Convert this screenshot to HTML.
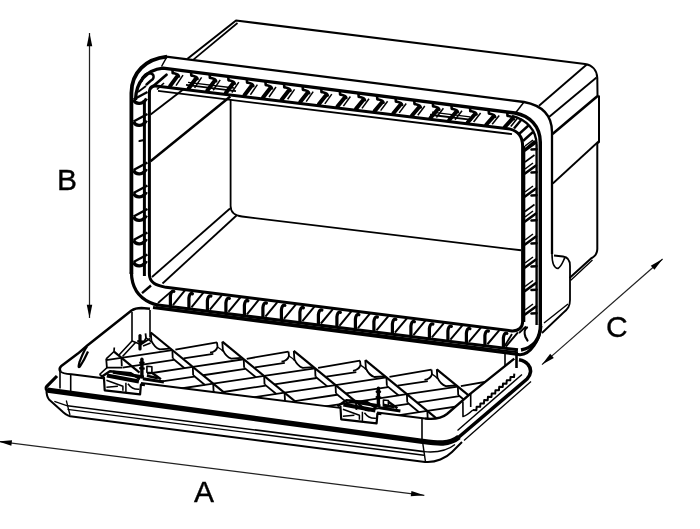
<!DOCTYPE html>
<html><head><meta charset="utf-8"><title>Box dimensions</title>
<style>
html,body{margin:0;padding:0;background:#fff;}
body{width:700px;height:529px;overflow:hidden;position:relative;font-family:"Liberation Sans",sans-serif;}
svg{position:absolute;left:0;top:0;filter:blur(0.3px);}
.lbl{position:absolute;will-change:transform;font-family:"Liberation Sans",sans-serif;font-size:30px;line-height:1;color:#000;-webkit-text-stroke:0.35px #000;}
</style></head><body>
<svg width="700" height="529" viewBox="0 0 700 529">
<path d="M187.5,58.8 L236,20.5 L585,64 C592,65 597,70 597.3,78 L597.5,95" fill="none" stroke="#000" stroke-width="2.0" stroke-linejoin="round" stroke-linecap="butt"/>
<line x1="237.50" y1="23.00" x2="192.50" y2="60.30" stroke="#000" stroke-width="1.7" stroke-linecap="butt"/>
<path d="M599,95.5 L599,142 L597.3,143.5 L597.3,249 C597.3,254 595,256.5 591,258.5 L569.5,278" fill="none" stroke="#000" stroke-width="2.0" stroke-linejoin="round" stroke-linecap="butt"/>
<line x1="592.50" y1="260.00" x2="570.50" y2="280.50" stroke="#000" stroke-width="1.3" stroke-linecap="butt"/>
<line x1="586.50" y1="64.80" x2="539.00" y2="105.70" stroke="#000" stroke-width="1.9" stroke-linecap="butt"/>
<line x1="596.50" y1="77.50" x2="549.00" y2="117.00" stroke="#000" stroke-width="1.9" stroke-linecap="butt"/>
<line x1="598.50" y1="95.20" x2="552.50" y2="134.00" stroke="#000" stroke-width="2.6" stroke-linecap="butt"/>
<line x1="598.50" y1="141.50" x2="552.80" y2="183.50" stroke="#000" stroke-width="1.8" stroke-linecap="butt"/>
<path d="M131.4,274 L131.4,93 C131.4,72 146,59 167,56.70" fill="none" stroke="#000" stroke-width="3.8" stroke-linejoin="round" stroke-linecap="butt"/>
<path d="M166,56.57 L524,102.00 C540,105 552,114 552,132 L552,254" fill="none" stroke="#000" stroke-width="2.3" stroke-linejoin="round" stroke-linecap="butt"/>
<line x1="167.00" y1="56.70" x2="161.50" y2="66.50" stroke="#000" stroke-width="1.5" stroke-linecap="butt"/>
<path d="M135.5,100 C136,82 146,70 163,68.12 L515,113.04 C530,116 540,126 540.3,142 L540.3,325" fill="none" stroke="#000" stroke-width="3.4" stroke-linejoin="round" stroke-linecap="butt"/>
<path d="M512,115.86 C526,119.5 536.6,129.5 536.6,145 L536.6,325" fill="none" stroke="#000" stroke-width="2.4" stroke-linejoin="round" stroke-linecap="butt"/>
<line x1="524.00" y1="102.00" x2="515.50" y2="113.04" stroke="#000" stroke-width="1.5" stroke-linecap="butt"/>
<path d="M149.4,93.11 C149.4,87.11 151,85.42 158,86.16 L510,129.10 C518,131.08 522.6,137 522.6,146 L522.6,322 C522.6,327 519,331.18 512,330.93 L166,287.34 C156,285.08 149.4,283 149.4,274 Z" fill="none" stroke="#000" stroke-width="3.0" stroke-linejoin="round" stroke-linecap="butt"/>
<line x1="158.00" y1="90.96" x2="512.00" y2="134.14" stroke="#000" stroke-width="1.8" stroke-linecap="butt"/>
<line x1="144.40" y1="100.00" x2="144.40" y2="276.00" stroke="#000" stroke-width="3.0" stroke-linecap="butt"/>
<line x1="524.60" y1="146.00" x2="524.60" y2="322.00" stroke="#000" stroke-width="1.4" stroke-linecap="butt"/>
<path d="M131.4,272 C131.6,287 138,297 150,302.5 C153,303.8 155,304.49 158,305.04" fill="none" stroke="#000" stroke-width="3.2" stroke-linejoin="round" stroke-linecap="butt"/>
<path d="M153,307.51 L520,354.71 C530,354.95 540,340 541,326" fill="none" stroke="#000" stroke-width="3.0" stroke-linejoin="round" stroke-linecap="butt"/>
<line x1="156.00" y1="304.79" x2="518.00" y2="349.86" stroke="#000" stroke-width="3.0" stroke-linecap="butt"/>
<line x1="156.00" y1="307.19" x2="518.00" y2="352.26" stroke="#000" stroke-width="2.0" stroke-linecap="butt"/>
<line x1="142.00" y1="293.20" x2="151.00" y2="285.50" stroke="#000" stroke-width="2.4" stroke-linecap="butt"/>
<line x1="158.00" y1="303.00" x2="171.00" y2="291.60" stroke="#000" stroke-width="1.8" stroke-linecap="butt"/>
<path d="M552,254 C552,262 553,268 558,268.5 C562,266 563,261 565,257.5" fill="none" stroke="#000" stroke-width="1.6" stroke-linejoin="round" stroke-linecap="butt"/>
<path d="M554,255.5 L563,256.5 C568,257 570,261 570,266 L570,300 C570,306 568,309 563,313 L542,333" fill="none" stroke="#000" stroke-width="1.8" stroke-linejoin="round" stroke-linecap="butt"/>
<line x1="568.00" y1="304.00" x2="544.00" y2="323.00" stroke="#000" stroke-width="1.4" stroke-linecap="butt"/>
<path d="M540.5,324 C540.5,338 534,347.5 521,350" fill="none" stroke="#000" stroke-width="3.4" stroke-linejoin="round" stroke-linecap="butt"/>
<path d="M527,327.5 C524.5,329 524,333 525.5,337 L527.5,340.5" fill="none" stroke="#000" stroke-width="2.2" stroke-linejoin="round" stroke-linecap="round"/>
<line x1="519.00" y1="333.00" x2="526.00" y2="326.50" stroke="#000" stroke-width="1.8" stroke-linecap="butt"/>
<line x1="512.00" y1="333.93" x2="504.00" y2="347.11" stroke="#000" stroke-width="1.8" stroke-linecap="butt"/>
<line x1="170.00" y1="86.18" x2="177.00" y2="76.58" stroke="#000" stroke-width="4.0" stroke-linecap="round"/>
<path d="M172.50,70.08 L172.70,73.08 C174.50,73.58 178.50,73.58 179.00,76.58" fill="none" stroke="#000" stroke-width="2.6" stroke-linejoin="round" stroke-linecap="round"/>
<line x1="176.00" y1="85.68" x2="183.00" y2="75.08" stroke="#000" stroke-width="1.5" stroke-linecap="butt"/>
<line x1="188.60" y1="88.45" x2="195.60" y2="78.95" stroke="#000" stroke-width="4.0" stroke-linecap="round"/>
<path d="M191.10,72.45 L191.30,75.45 C193.10,75.95 197.10,75.95 197.60,78.95" fill="none" stroke="#000" stroke-width="2.6" stroke-linejoin="round" stroke-linecap="round"/>
<line x1="194.60" y1="87.95" x2="201.60" y2="77.45" stroke="#000" stroke-width="1.5" stroke-linecap="butt"/>
<line x1="207.20" y1="90.72" x2="214.20" y2="81.33" stroke="#000" stroke-width="4.0" stroke-linecap="round"/>
<path d="M209.70,74.83 L209.90,77.83 C211.70,78.33 215.70,78.33 216.20,81.33" fill="none" stroke="#000" stroke-width="2.6" stroke-linejoin="round" stroke-linecap="round"/>
<line x1="213.20" y1="90.22" x2="220.20" y2="79.83" stroke="#000" stroke-width="1.5" stroke-linecap="butt"/>
<line x1="225.80" y1="92.99" x2="232.80" y2="83.70" stroke="#000" stroke-width="4.0" stroke-linecap="round"/>
<path d="M228.30,77.20 L228.50,80.20 C230.30,80.70 234.30,80.70 234.80,83.70" fill="none" stroke="#000" stroke-width="2.6" stroke-linejoin="round" stroke-linecap="round"/>
<line x1="231.80" y1="92.49" x2="238.80" y2="82.20" stroke="#000" stroke-width="1.5" stroke-linecap="butt"/>
<line x1="244.40" y1="95.26" x2="251.40" y2="86.07" stroke="#000" stroke-width="4.0" stroke-linecap="round"/>
<path d="M246.90,79.57 L247.10,82.57 C248.90,83.07 252.90,83.07 253.40,86.07" fill="none" stroke="#000" stroke-width="2.6" stroke-linejoin="round" stroke-linecap="round"/>
<line x1="250.40" y1="94.76" x2="257.40" y2="84.57" stroke="#000" stroke-width="1.5" stroke-linecap="butt"/>
<line x1="263.00" y1="97.53" x2="270.00" y2="88.45" stroke="#000" stroke-width="4.0" stroke-linecap="round"/>
<path d="M265.50,81.95 L265.70,84.95 C267.50,85.45 271.50,85.45 272.00,88.45" fill="none" stroke="#000" stroke-width="2.6" stroke-linejoin="round" stroke-linecap="round"/>
<line x1="269.00" y1="97.03" x2="276.00" y2="86.95" stroke="#000" stroke-width="1.5" stroke-linecap="butt"/>
<line x1="281.60" y1="99.80" x2="288.60" y2="90.82" stroke="#000" stroke-width="4.0" stroke-linecap="round"/>
<path d="M284.10,84.32 L284.30,87.32 C286.10,87.82 290.10,87.82 290.60,90.82" fill="none" stroke="#000" stroke-width="2.6" stroke-linejoin="round" stroke-linecap="round"/>
<line x1="287.60" y1="99.30" x2="294.60" y2="89.32" stroke="#000" stroke-width="1.5" stroke-linecap="butt"/>
<line x1="300.20" y1="102.07" x2="307.20" y2="93.19" stroke="#000" stroke-width="4.0" stroke-linecap="round"/>
<path d="M302.70,86.69 L302.90,89.69 C304.70,90.19 308.70,90.19 309.20,93.19" fill="none" stroke="#000" stroke-width="2.6" stroke-linejoin="round" stroke-linecap="round"/>
<line x1="306.20" y1="101.57" x2="313.20" y2="91.69" stroke="#000" stroke-width="1.5" stroke-linecap="butt"/>
<line x1="318.80" y1="104.33" x2="325.80" y2="95.57" stroke="#000" stroke-width="4.0" stroke-linecap="round"/>
<path d="M321.30,89.07 L321.50,92.07 C323.30,92.57 327.30,92.57 327.80,95.57" fill="none" stroke="#000" stroke-width="2.6" stroke-linejoin="round" stroke-linecap="round"/>
<line x1="324.80" y1="103.83" x2="331.80" y2="94.07" stroke="#000" stroke-width="1.5" stroke-linecap="butt"/>
<line x1="337.40" y1="106.60" x2="344.40" y2="97.94" stroke="#000" stroke-width="4.0" stroke-linecap="round"/>
<path d="M339.90,91.44 L340.10,94.44 C341.90,94.94 345.90,94.94 346.40,97.94" fill="none" stroke="#000" stroke-width="2.6" stroke-linejoin="round" stroke-linecap="round"/>
<line x1="343.40" y1="106.10" x2="350.40" y2="96.44" stroke="#000" stroke-width="1.5" stroke-linecap="butt"/>
<line x1="356.00" y1="108.87" x2="363.00" y2="100.31" stroke="#000" stroke-width="4.0" stroke-linecap="round"/>
<path d="M358.50,93.81 L358.70,96.81 C360.50,97.31 364.50,97.31 365.00,100.31" fill="none" stroke="#000" stroke-width="2.6" stroke-linejoin="round" stroke-linecap="round"/>
<line x1="362.00" y1="108.37" x2="369.00" y2="98.81" stroke="#000" stroke-width="1.5" stroke-linecap="butt"/>
<line x1="374.60" y1="111.14" x2="381.60" y2="102.69" stroke="#000" stroke-width="4.0" stroke-linecap="round"/>
<path d="M377.10,96.19 L377.30,99.19 C379.10,99.69 383.10,99.69 383.60,102.69" fill="none" stroke="#000" stroke-width="2.6" stroke-linejoin="round" stroke-linecap="round"/>
<line x1="380.60" y1="110.64" x2="387.60" y2="101.19" stroke="#000" stroke-width="1.5" stroke-linecap="butt"/>
<line x1="393.20" y1="113.41" x2="400.20" y2="105.06" stroke="#000" stroke-width="4.0" stroke-linecap="round"/>
<path d="M395.70,98.56 L395.90,101.56 C397.70,102.06 401.70,102.06 402.20,105.06" fill="none" stroke="#000" stroke-width="2.6" stroke-linejoin="round" stroke-linecap="round"/>
<line x1="399.20" y1="112.91" x2="406.20" y2="103.56" stroke="#000" stroke-width="1.5" stroke-linecap="butt"/>
<line x1="411.80" y1="115.68" x2="418.80" y2="107.43" stroke="#000" stroke-width="4.0" stroke-linecap="round"/>
<path d="M414.30,100.93 L414.50,103.93 C416.30,104.43 420.30,104.43 420.80,107.43" fill="none" stroke="#000" stroke-width="2.6" stroke-linejoin="round" stroke-linecap="round"/>
<line x1="417.80" y1="115.18" x2="424.80" y2="105.93" stroke="#000" stroke-width="1.5" stroke-linecap="butt"/>
<line x1="430.40" y1="117.95" x2="437.40" y2="109.81" stroke="#000" stroke-width="4.0" stroke-linecap="round"/>
<path d="M432.90,103.31 L433.10,106.31 C434.90,106.81 438.90,106.81 439.40,109.81" fill="none" stroke="#000" stroke-width="2.6" stroke-linejoin="round" stroke-linecap="round"/>
<line x1="436.40" y1="117.45" x2="443.40" y2="108.31" stroke="#000" stroke-width="1.5" stroke-linecap="butt"/>
<line x1="449.00" y1="120.22" x2="456.00" y2="112.18" stroke="#000" stroke-width="4.0" stroke-linecap="round"/>
<path d="M451.50,105.68 L451.70,108.68 C453.50,109.18 457.50,109.18 458.00,112.18" fill="none" stroke="#000" stroke-width="2.6" stroke-linejoin="round" stroke-linecap="round"/>
<line x1="455.00" y1="119.72" x2="462.00" y2="110.68" stroke="#000" stroke-width="1.5" stroke-linecap="butt"/>
<line x1="467.60" y1="122.49" x2="474.60" y2="114.55" stroke="#000" stroke-width="4.0" stroke-linecap="round"/>
<path d="M470.10,108.05 L470.30,111.05 C472.10,111.55 476.10,111.55 476.60,114.55" fill="none" stroke="#000" stroke-width="2.6" stroke-linejoin="round" stroke-linecap="round"/>
<line x1="473.60" y1="121.99" x2="480.60" y2="113.05" stroke="#000" stroke-width="1.5" stroke-linecap="butt"/>
<line x1="486.20" y1="124.76" x2="493.20" y2="116.93" stroke="#000" stroke-width="4.0" stroke-linecap="round"/>
<path d="M488.70,110.43 L488.90,113.43 C490.70,113.93 494.70,113.93 495.20,116.93" fill="none" stroke="#000" stroke-width="2.6" stroke-linejoin="round" stroke-linecap="round"/>
<line x1="492.20" y1="124.26" x2="499.20" y2="115.43" stroke="#000" stroke-width="1.5" stroke-linecap="butt"/>
<line x1="504.80" y1="127.03" x2="511.80" y2="119.30" stroke="#000" stroke-width="4.0" stroke-linecap="round"/>
<path d="M507.30,112.80 L507.50,115.80 C509.30,116.30 513.30,116.30 513.80,119.30" fill="none" stroke="#000" stroke-width="2.6" stroke-linejoin="round" stroke-linecap="round"/>
<line x1="510.80" y1="126.53" x2="517.80" y2="117.80" stroke="#000" stroke-width="1.5" stroke-linecap="butt"/>
<line x1="186.00" y1="84.97" x2="236.00" y2="91.07" stroke="#000" stroke-width="1.8" stroke-linecap="butt"/>
<line x1="188.00" y1="82.42" x2="234.00" y2="88.03" stroke="#000" stroke-width="1.4" stroke-linecap="butt"/>
<line x1="430.00" y1="114.74" x2="472.00" y2="119.86" stroke="#000" stroke-width="1.8" stroke-linecap="butt"/>
<line x1="432.00" y1="112.18" x2="470.00" y2="116.82" stroke="#000" stroke-width="1.4" stroke-linecap="butt"/>
<path d="M173.90,291.39 C171.90,290.39 170.70,292.89 170.40,295.89 L170.40,305.58" fill="none" stroke="#000" stroke-width="3.2" stroke-linejoin="round" stroke-linecap="round"/>
<line x1="184.90" y1="290.39" x2="172.90" y2="305.08" stroke="#000" stroke-width="2.0" stroke-linecap="butt"/>
<path d="M192.40,293.72 C190.40,292.72 189.20,295.22 188.90,298.22 L188.90,307.88" fill="none" stroke="#000" stroke-width="3.2" stroke-linejoin="round" stroke-linecap="round"/>
<line x1="203.40" y1="292.72" x2="191.40" y2="307.38" stroke="#000" stroke-width="2.0" stroke-linecap="butt"/>
<path d="M210.90,296.05 C208.90,295.05 207.70,297.55 207.40,300.55 L207.40,310.19" fill="none" stroke="#000" stroke-width="3.2" stroke-linejoin="round" stroke-linecap="round"/>
<line x1="221.90" y1="295.05" x2="209.90" y2="309.69" stroke="#000" stroke-width="2.0" stroke-linecap="butt"/>
<path d="M229.40,298.38 C227.40,297.38 226.20,299.88 225.90,302.88 L225.90,312.49" fill="none" stroke="#000" stroke-width="3.2" stroke-linejoin="round" stroke-linecap="round"/>
<line x1="240.40" y1="297.38" x2="228.40" y2="311.99" stroke="#000" stroke-width="2.0" stroke-linecap="butt"/>
<path d="M247.90,300.71 C245.90,299.71 244.70,302.21 244.40,305.21 L244.40,314.79" fill="none" stroke="#000" stroke-width="3.2" stroke-linejoin="round" stroke-linecap="round"/>
<line x1="258.90" y1="299.71" x2="246.90" y2="314.29" stroke="#000" stroke-width="2.0" stroke-linecap="butt"/>
<path d="M266.40,303.05 C264.40,302.05 263.20,304.55 262.90,307.55 L262.90,317.10" fill="none" stroke="#000" stroke-width="3.2" stroke-linejoin="round" stroke-linecap="round"/>
<line x1="277.40" y1="302.05" x2="265.40" y2="316.60" stroke="#000" stroke-width="2.0" stroke-linecap="butt"/>
<path d="M284.90,305.38 C282.90,304.38 281.70,306.88 281.40,309.88 L281.40,319.40" fill="none" stroke="#000" stroke-width="3.2" stroke-linejoin="round" stroke-linecap="round"/>
<line x1="295.90" y1="304.38" x2="283.90" y2="318.90" stroke="#000" stroke-width="2.0" stroke-linecap="butt"/>
<path d="M303.40,307.71 C301.40,306.71 300.20,309.21 299.90,312.21 L299.90,321.70" fill="none" stroke="#000" stroke-width="3.2" stroke-linejoin="round" stroke-linecap="round"/>
<line x1="314.40" y1="306.71" x2="302.40" y2="321.20" stroke="#000" stroke-width="2.0" stroke-linecap="butt"/>
<path d="M321.90,310.04 C319.90,309.04 318.70,311.54 318.40,314.54 L318.40,324.01" fill="none" stroke="#000" stroke-width="3.2" stroke-linejoin="round" stroke-linecap="round"/>
<line x1="332.90" y1="309.04" x2="320.90" y2="323.51" stroke="#000" stroke-width="2.0" stroke-linecap="butt"/>
<path d="M340.40,312.37 C338.40,311.37 337.20,313.87 336.90,316.87 L336.90,326.31" fill="none" stroke="#000" stroke-width="3.2" stroke-linejoin="round" stroke-linecap="round"/>
<line x1="351.40" y1="311.37" x2="339.40" y2="325.81" stroke="#000" stroke-width="2.0" stroke-linecap="butt"/>
<path d="M358.90,314.70 C356.90,313.70 355.70,316.20 355.40,319.20 L355.40,328.61" fill="none" stroke="#000" stroke-width="3.2" stroke-linejoin="round" stroke-linecap="round"/>
<line x1="369.90" y1="313.70" x2="357.90" y2="328.11" stroke="#000" stroke-width="2.0" stroke-linecap="butt"/>
<path d="M377.40,317.03 C375.40,316.03 374.20,318.53 373.90,321.53 L373.90,330.92" fill="none" stroke="#000" stroke-width="3.2" stroke-linejoin="round" stroke-linecap="round"/>
<line x1="388.40" y1="316.03" x2="376.40" y2="330.42" stroke="#000" stroke-width="2.0" stroke-linecap="butt"/>
<path d="M395.90,319.36 C393.90,318.36 392.70,320.86 392.40,323.86 L392.40,333.22" fill="none" stroke="#000" stroke-width="3.2" stroke-linejoin="round" stroke-linecap="round"/>
<line x1="406.90" y1="318.36" x2="394.90" y2="332.72" stroke="#000" stroke-width="2.0" stroke-linecap="butt"/>
<path d="M414.40,321.69 C412.40,320.69 411.20,323.19 410.90,326.19 L410.90,335.52" fill="none" stroke="#000" stroke-width="3.2" stroke-linejoin="round" stroke-linecap="round"/>
<line x1="425.40" y1="320.69" x2="413.40" y2="335.02" stroke="#000" stroke-width="2.0" stroke-linecap="butt"/>
<path d="M432.90,324.02 C430.90,323.02 429.70,325.52 429.40,328.52 L429.40,337.83" fill="none" stroke="#000" stroke-width="3.2" stroke-linejoin="round" stroke-linecap="round"/>
<line x1="443.90" y1="323.02" x2="431.90" y2="337.33" stroke="#000" stroke-width="2.0" stroke-linecap="butt"/>
<path d="M451.40,326.36 C449.40,325.36 448.20,327.86 447.90,330.86 L447.90,340.13" fill="none" stroke="#000" stroke-width="3.2" stroke-linejoin="round" stroke-linecap="round"/>
<line x1="462.40" y1="325.36" x2="450.40" y2="339.63" stroke="#000" stroke-width="2.0" stroke-linecap="butt"/>
<path d="M469.90,328.69 C467.90,327.69 466.70,330.19 466.40,333.19 L466.40,342.43" fill="none" stroke="#000" stroke-width="3.2" stroke-linejoin="round" stroke-linecap="round"/>
<line x1="480.90" y1="327.69" x2="468.90" y2="341.93" stroke="#000" stroke-width="2.0" stroke-linecap="butt"/>
<path d="M488.40,331.02 C486.40,330.02 485.20,332.52 484.90,335.52 L484.90,344.74" fill="none" stroke="#000" stroke-width="3.2" stroke-linejoin="round" stroke-linecap="round"/>
<line x1="499.40" y1="330.02" x2="487.40" y2="344.24" stroke="#000" stroke-width="2.0" stroke-linecap="butt"/>
<path d="M506.90,333.35 C504.90,332.35 503.70,334.85 503.40,337.85 L503.40,347.04" fill="none" stroke="#000" stroke-width="3.2" stroke-linejoin="round" stroke-linecap="round"/>
<line x1="517.90" y1="332.35" x2="505.90" y2="346.54" stroke="#000" stroke-width="2.0" stroke-linecap="butt"/>
<path d="M141.5,81 C142.5,75.5 147,72.5 151,73.5 C154.5,74.5 154.5,78.5 151,80.5 L146.5,84.5" fill="none" stroke="#000" stroke-width="2.4" stroke-linejoin="round" stroke-linecap="round"/>
<line x1="150.50" y1="88.50" x2="166.50" y2="74.80" stroke="#000" stroke-width="2.8" stroke-linecap="round"/>
<line x1="157.00" y1="89.50" x2="164.00" y2="83.00" stroke="#000" stroke-width="1.6" stroke-linecap="butt"/>
<line x1="138.00" y1="92.00" x2="146.00" y2="86.00" stroke="#000" stroke-width="1.8" stroke-linecap="butt"/>
<line x1="133.50" y1="99.50" x2="147.50" y2="92.00" stroke="#000" stroke-width="2.4" stroke-linecap="butt"/>
<path d="M133.5,99.80 C136,105.00 143,104.50 146.5,98.50" fill="none" stroke="#000" stroke-width="3.3" stroke-linejoin="round" stroke-linecap="butt"/>
<line x1="133.50" y1="121.50" x2="147.50" y2="114.00" stroke="#000" stroke-width="2.4" stroke-linecap="butt"/>
<path d="M133.5,121.80 C136,127.00 143,126.50 146.5,120.50" fill="none" stroke="#000" stroke-width="3.3" stroke-linejoin="round" stroke-linecap="butt"/>
<line x1="133.50" y1="170.00" x2="147.50" y2="162.50" stroke="#000" stroke-width="2.4" stroke-linecap="butt"/>
<path d="M133.5,170.30 C136,175.50 143,175.00 146.5,169.00" fill="none" stroke="#000" stroke-width="3.3" stroke-linejoin="round" stroke-linecap="butt"/>
<line x1="133.50" y1="193.00" x2="147.50" y2="185.50" stroke="#000" stroke-width="2.4" stroke-linecap="butt"/>
<path d="M133.5,193.30 C136,198.50 143,198.00 146.5,192.00" fill="none" stroke="#000" stroke-width="3.3" stroke-linejoin="round" stroke-linecap="butt"/>
<line x1="133.50" y1="216.50" x2="147.50" y2="209.00" stroke="#000" stroke-width="2.4" stroke-linecap="butt"/>
<path d="M133.5,216.80 C136,222.00 143,221.50 146.5,215.50" fill="none" stroke="#000" stroke-width="3.3" stroke-linejoin="round" stroke-linecap="butt"/>
<line x1="133.50" y1="240.00" x2="147.50" y2="232.50" stroke="#000" stroke-width="2.4" stroke-linecap="butt"/>
<path d="M133.5,240.30 C136,245.50 143,245.00 146.5,239.00" fill="none" stroke="#000" stroke-width="3.3" stroke-linejoin="round" stroke-linecap="butt"/>
<line x1="133.50" y1="262.00" x2="147.50" y2="254.50" stroke="#000" stroke-width="2.4" stroke-linecap="butt"/>
<path d="M133.5,262.30 C136,267.50 143,267.00 146.5,261.00" fill="none" stroke="#000" stroke-width="3.3" stroke-linejoin="round" stroke-linecap="butt"/>
<line x1="139.50" y1="141.00" x2="144.00" y2="140.00" stroke="#000" stroke-width="2.2" stroke-linecap="round"/>
<line x1="525.00" y1="150.50" x2="536.00" y2="142.50" stroke="#000" stroke-width="2.6" stroke-linecap="round"/>
<line x1="525.00" y1="146.00" x2="533.00" y2="140.00" stroke="#000" stroke-width="1.5" stroke-linecap="butt"/>
<line x1="531.50" y1="149.50" x2="536.50" y2="149.20" stroke="#000" stroke-width="2.6" stroke-linecap="round"/>
<line x1="525.00" y1="173.50" x2="536.00" y2="165.50" stroke="#000" stroke-width="2.6" stroke-linecap="round"/>
<line x1="525.00" y1="169.00" x2="533.00" y2="163.00" stroke="#000" stroke-width="1.5" stroke-linecap="butt"/>
<line x1="531.50" y1="172.50" x2="536.50" y2="172.20" stroke="#000" stroke-width="2.6" stroke-linecap="round"/>
<line x1="525.00" y1="196.50" x2="536.00" y2="188.50" stroke="#000" stroke-width="2.6" stroke-linecap="round"/>
<line x1="525.00" y1="192.00" x2="533.00" y2="186.00" stroke="#000" stroke-width="1.5" stroke-linecap="butt"/>
<line x1="531.50" y1="195.50" x2="536.50" y2="195.20" stroke="#000" stroke-width="2.6" stroke-linecap="round"/>
<line x1="525.00" y1="221.50" x2="536.00" y2="213.50" stroke="#000" stroke-width="2.6" stroke-linecap="round"/>
<line x1="525.00" y1="217.00" x2="533.00" y2="211.00" stroke="#000" stroke-width="1.5" stroke-linecap="butt"/>
<line x1="531.50" y1="220.50" x2="536.50" y2="220.20" stroke="#000" stroke-width="2.6" stroke-linecap="round"/>
<line x1="525.00" y1="244.50" x2="536.00" y2="236.50" stroke="#000" stroke-width="2.6" stroke-linecap="round"/>
<line x1="525.00" y1="240.00" x2="533.00" y2="234.00" stroke="#000" stroke-width="1.5" stroke-linecap="butt"/>
<line x1="531.50" y1="243.50" x2="536.50" y2="243.20" stroke="#000" stroke-width="2.6" stroke-linecap="round"/>
<line x1="525.00" y1="267.50" x2="536.00" y2="259.50" stroke="#000" stroke-width="2.6" stroke-linecap="round"/>
<line x1="525.00" y1="263.00" x2="533.00" y2="257.00" stroke="#000" stroke-width="1.5" stroke-linecap="butt"/>
<line x1="531.50" y1="266.50" x2="536.50" y2="266.20" stroke="#000" stroke-width="2.6" stroke-linecap="round"/>
<line x1="525.00" y1="291.00" x2="536.00" y2="283.00" stroke="#000" stroke-width="2.6" stroke-linecap="round"/>
<line x1="525.00" y1="286.50" x2="533.00" y2="280.50" stroke="#000" stroke-width="1.5" stroke-linecap="butt"/>
<line x1="531.50" y1="290.00" x2="536.50" y2="289.70" stroke="#000" stroke-width="2.6" stroke-linecap="round"/>
<line x1="525.00" y1="314.50" x2="536.00" y2="306.50" stroke="#000" stroke-width="2.6" stroke-linecap="round"/>
<line x1="525.00" y1="310.00" x2="533.00" y2="304.00" stroke="#000" stroke-width="1.5" stroke-linecap="butt"/>
<line x1="531.50" y1="313.50" x2="536.50" y2="313.20" stroke="#000" stroke-width="2.6" stroke-linecap="round"/>
<line x1="525.00" y1="162.00" x2="534.50" y2="155.00" stroke="#000" stroke-width="1.6" stroke-linecap="butt"/>
<line x1="525.00" y1="211.50" x2="534.50" y2="204.50" stroke="#000" stroke-width="1.6" stroke-linecap="butt"/>
<line x1="514.00" y1="128.59" x2="522.00" y2="118.93" stroke="#000" stroke-width="2.4" stroke-linecap="butt"/>
<line x1="519.00" y1="134.00" x2="528.50" y2="125.50" stroke="#000" stroke-width="2.4" stroke-linecap="butt"/>
<line x1="523.00" y1="141.00" x2="533.00" y2="132.00" stroke="#000" stroke-width="2.4" stroke-linecap="butt"/>
<line x1="524.50" y1="150.00" x2="535.00" y2="141.00" stroke="#000" stroke-width="2.4" stroke-linecap="butt"/>
<path d="M230.6,99.74 L230.6,206 C230.6,212 234,215.5 242,216.5 L521,250.26" fill="none" stroke="#000" stroke-width="1.8" stroke-linejoin="round" stroke-linecap="butt"/>
<line x1="230.00" y1="208.50" x2="152.00" y2="277.00" stroke="#000" stroke-width="1.8" stroke-linecap="butt"/>
<line x1="236.50" y1="215.50" x2="162.50" y2="283.50" stroke="#000" stroke-width="1.8" stroke-linecap="butt"/>
<line x1="230.30" y1="96.50" x2="150.50" y2="161.20" stroke="#000" stroke-width="2.5" stroke-linecap="butt"/>
<line x1="183.50" y1="89.27" x2="150.60" y2="114.40" stroke="#000" stroke-width="1.9" stroke-linecap="butt"/>
<line x1="89.50" y1="33.00" x2="89.50" y2="318.00" stroke="#222" stroke-width="1.25" stroke-linecap="butt"/>
<path d="M89.50,33.00 L86.75,46.30 L92.25,46.30 Z" fill="#000" stroke="none"/>
<path d="M89.50,318.00 L92.25,304.70 L86.75,304.70 Z" fill="#000" stroke="none"/>
<line x1="-1.50" y1="441.40" x2="424.30" y2="495.30" stroke="#222" stroke-width="1.25" stroke-linecap="butt"/>
<path d="M-1.50,441.40 L11.35,445.80 L12.04,440.34 Z" fill="#000" stroke="none"/>
<path d="M424.30,495.30 L411.45,490.90 L410.76,496.36 Z" fill="#000" stroke="none"/>
<line x1="542.00" y1="364.60" x2="662.60" y2="259.00" stroke="#222" stroke-width="1.25" stroke-linecap="butt"/>
<path d="M542.00,364.60 L553.82,357.91 L550.19,353.77 Z" fill="#000" stroke="none"/>
<path d="M662.60,259.00 L650.78,265.69 L654.41,269.83 Z" fill="#000" stroke="none"/>
<path d="M150,308.8 L141.4,308 C137,308 134.5,308.5 131.5,310.5 L87.3,345.5 L77.9,353.6 L61,366.3 C59.5,367.8 59.5,370 60.5,371.5" fill="none" stroke="#000" stroke-width="2.5" stroke-linejoin="round" stroke-linecap="butt"/>
<path d="M87,346.5 C84,350 82,356 79.5,362 C78.5,366 78,368.5 80,366.5 C83,362 86,356 88,351.5" fill="none" stroke="#000" stroke-width="2.2" stroke-linejoin="round" stroke-linecap="butt"/>
<line x1="132.00" y1="312.00" x2="132.00" y2="341.00" stroke="#000" stroke-width="1.6" stroke-linecap="butt"/>
<line x1="150.00" y1="310.00" x2="150.00" y2="337.50" stroke="#000" stroke-width="1.6" stroke-linecap="butt"/>
<path d="M60.5,371.5 C62,373.5 66,373.88 71.4,374.30 L103,378.25" fill="none" stroke="#000" stroke-width="2.0" stroke-linejoin="round" stroke-linecap="butt"/>
<line x1="141.00" y1="383.00" x2="340.00" y2="407.88" stroke="#000" stroke-width="2.0" stroke-linecap="butt"/>
<line x1="377.00" y1="412.50" x2="425.00" y2="418.50" stroke="#000" stroke-width="2.0" stroke-linecap="butt"/>
<path d="M425,418.50 C436,419.88 442,418 447,414 L470.5,393.6 L514.3,358.6" fill="none" stroke="#000" stroke-width="2.4" stroke-linejoin="round" stroke-linecap="butt"/>
<line x1="60.00" y1="371.00" x2="60.00" y2="388.50" stroke="#000" stroke-width="1.6" stroke-linecap="butt"/>
<line x1="70.70" y1="374.30" x2="70.70" y2="391.50" stroke="#000" stroke-width="1.6" stroke-linecap="butt"/>
<line x1="422.00" y1="418.12" x2="422.00" y2="439.30" stroke="#000" stroke-width="1.6" stroke-linecap="butt"/>
<line x1="470.70" y1="393.60" x2="470.70" y2="407.00" stroke="#000" stroke-width="1.6" stroke-linecap="butt"/>
<line x1="505.00" y1="352.50" x2="505.00" y2="366.50" stroke="#000" stroke-width="1.6" stroke-linecap="butt"/>
<line x1="516.50" y1="352.00" x2="516.50" y2="368.00" stroke="#000" stroke-width="2.6" stroke-linecap="butt"/>
<path d="M57,376 L46.8,386.4 C45.3,388 45.8,390.31 49,390.94" fill="none" stroke="#000" stroke-width="3.2" stroke-linejoin="round" stroke-linecap="butt"/>
<path d="M47.5,390.14 L422.5,441.36 C438,443.45 449,445 459,437" fill="none" stroke="#000" stroke-width="5.4" stroke-linejoin="round" stroke-linecap="butt"/>
<path d="M456,439.5 L527,379 C531,375 532,369 528,364.5 C526,362 523,360.5 519,359.8" fill="none" stroke="#000" stroke-width="3.6" stroke-linejoin="round" stroke-linecap="butt"/>
<line x1="457.50" y1="430.50" x2="522.00" y2="374.50" stroke="#000" stroke-width="1.4" stroke-linecap="butt"/>
<line x1="464.00" y1="440.50" x2="531.00" y2="381.50" stroke="#000" stroke-width="1.3" stroke-linecap="butt"/>
<path d="M46.4,389 C46.4,394 47,397 49,399.5 L63,412 C66,414.5 68,416.24 72,416.50 L425,461.89 C436,462.81 446,458 452,452 L462,442" fill="none" stroke="#000" stroke-width="2.0" stroke-linejoin="round" stroke-linecap="butt"/>
<line x1="54.30" y1="401.40" x2="67.50" y2="405.82" stroke="#000" stroke-width="1.2" stroke-linecap="butt"/>
<line x1="67.50" y1="405.82" x2="424.00" y2="451.66" stroke="#000" stroke-width="1.6" stroke-linecap="butt"/>
<line x1="67.50" y1="409.42" x2="424.00" y2="455.26" stroke="#000" stroke-width="1.3" stroke-linecap="butt"/>
<line x1="66.30" y1="400.50" x2="70.00" y2="415.00" stroke="#000" stroke-width="1.3" stroke-linecap="butt"/>
<line x1="422.80" y1="443.40" x2="425.50" y2="461.96" stroke="#000" stroke-width="1.4" stroke-linecap="butt"/>
<path d="M424,451.66 C437,452.84 447,451 455,444.5" fill="none" stroke="#000" stroke-width="1.4" stroke-linejoin="round" stroke-linecap="butt"/>
<path d="M514.3,373.6 L514.02,377.05 L510.54,376.91 L510.25,380.36 L506.77,380.22 L506.49,383.67 L503.01,383.53 L502.73,386.98 L499.25,386.84 L498.96,390.29 L495.48,390.15 L495.20,393.60 L491.72,393.45 L491.44,396.91 L487.95,396.76 L487.67,400.22 L484.19,400.07 L483.91,403.53 L480.43,403.38 L480.15,406.84 L476.66,406.69 L476.38,410.15 L472.90,410.00 " fill="none" stroke="#000" stroke-width="2.0" stroke-linejoin="round" stroke-linecap="butt"/>
<path d="M472.9,410 C469,413.5 466,416 463,416.5 L462.9,401.5" fill="none" stroke="#000" stroke-width="1.6" stroke-linejoin="round" stroke-linecap="butt"/>
<path d="M103.9,376.7 L104.7,390.3 L140.10000000000002,394.3 L140.9,384.7 L144.9,385.09999999999997" fill="none" stroke="#000" stroke-width="2.2" stroke-linejoin="round" stroke-linecap="butt"/>
<path d="M106.4,380.2 L122.9,386.2 L122.9,390.7 M106.4,387.2 L117.9,386.2" fill="none" stroke="#000" stroke-width="1.5" stroke-linejoin="round" stroke-linecap="butt"/>
<path d="M125.9,382.7 L125.9,392.2 M127.9,383.7 C130.9,387.7 134.9,389.7 139.4,389.2" fill="none" stroke="#000" stroke-width="1.5" stroke-linejoin="round" stroke-linecap="butt"/>
<path d="M100.9,377.2 L109.9,371.2 L130.9,373.2 L139.9,379.2" fill="none" stroke="#000" stroke-width="2.4" stroke-linejoin="round" stroke-linecap="butt"/>
<path d="M106.9,375.5 L138.9,381.5" fill="none" stroke="#000" stroke-width="4.2" stroke-linejoin="round" stroke-linecap="butt"/>
<path d="M112.9,372.2 L143.9,377.2" fill="none" stroke="#000" stroke-width="3.2" stroke-linejoin="round" stroke-linecap="butt"/>
<path d="M142.9,378.7 L163.9,381.9" fill="none" stroke="#000" stroke-width="3.0" stroke-linejoin="round" stroke-linecap="butt"/>
<path d="M146.9,375.7 L157.9,378.2" fill="none" stroke="#000" stroke-width="2.6" stroke-linejoin="round" stroke-linecap="butt"/>
<line x1="141.90" y1="359.20" x2="141.90" y2="376.70" stroke="#000" stroke-width="3.4" stroke-linecap="round"/>
<line x1="139.20" y1="368.20" x2="144.70" y2="368.70" stroke="#000" stroke-width="2.2" stroke-linecap="butt"/>
<line x1="140.40" y1="362.70" x2="143.40" y2="362.70" stroke="#000" stroke-width="2.6" stroke-linecap="round"/>
<path d="M146.9,366.2 L151.9,366.7 L151.9,372.7 L146.9,372.2 Z" fill="none" stroke="#000" stroke-width="1.6" stroke-linejoin="round" stroke-linecap="butt"/>
<line x1="151.90" y1="372.70" x2="160.90" y2="379.20" stroke="#000" stroke-width="2.4" stroke-linecap="butt"/>
<path d="M340.4,405.7 L341.2,419.3 L376.59999999999997,423.3 L377.4,413.7 L381.4,414.09999999999997" fill="none" stroke="#000" stroke-width="2.2" stroke-linejoin="round" stroke-linecap="butt"/>
<path d="M342.9,409.2 L359.4,415.2 L359.4,419.7 M342.9,416.2 L354.4,415.2" fill="none" stroke="#000" stroke-width="1.5" stroke-linejoin="round" stroke-linecap="butt"/>
<path d="M362.4,411.7 L362.4,421.2 M364.4,412.7 C367.4,416.7 371.4,418.7 375.9,418.2" fill="none" stroke="#000" stroke-width="1.5" stroke-linejoin="round" stroke-linecap="butt"/>
<path d="M337.4,406.2 L346.4,400.2 L367.4,402.2 L376.4,408.2" fill="none" stroke="#000" stroke-width="2.4" stroke-linejoin="round" stroke-linecap="butt"/>
<path d="M343.4,404.5 L375.4,410.5" fill="none" stroke="#000" stroke-width="4.2" stroke-linejoin="round" stroke-linecap="butt"/>
<path d="M349.4,401.2 L380.4,406.2" fill="none" stroke="#000" stroke-width="3.2" stroke-linejoin="round" stroke-linecap="butt"/>
<path d="M379.4,407.7 L400.4,410.9" fill="none" stroke="#000" stroke-width="3.0" stroke-linejoin="round" stroke-linecap="butt"/>
<path d="M383.4,404.7 L394.4,407.2" fill="none" stroke="#000" stroke-width="2.6" stroke-linejoin="round" stroke-linecap="butt"/>
<line x1="378.40" y1="388.20" x2="378.40" y2="405.70" stroke="#000" stroke-width="3.4" stroke-linecap="round"/>
<line x1="375.70" y1="397.20" x2="381.20" y2="397.70" stroke="#000" stroke-width="2.2" stroke-linecap="butt"/>
<line x1="376.90" y1="391.70" x2="379.90" y2="391.70" stroke="#000" stroke-width="2.6" stroke-linecap="round"/>
<path d="M383.4,400.0 L388.4,400.5 L388.4,406.5 L383.4,406.0 Z" fill="none" stroke="#000" stroke-width="1.6" stroke-linejoin="round" stroke-linecap="butt"/>
<line x1="388.40" y1="401.70" x2="397.40" y2="408.20" stroke="#000" stroke-width="2.4" stroke-linecap="butt"/>
<line x1="140.00" y1="335.50" x2="140.00" y2="349.00" stroke="#000" stroke-width="3.2" stroke-linecap="round"/>
<line x1="137.30" y1="341.00" x2="143.00" y2="341.50" stroke="#000" stroke-width="2.2" stroke-linecap="butt"/>
<path d="M132,341 L141,344.5 L150,338.5" fill="none" stroke="#000" stroke-width="1.6" stroke-linejoin="round" stroke-linecap="butt"/>
<path d="M132,341 L119,355 M135.5,342.5 L122.5,356.5" fill="none" stroke="#000" stroke-width="1.6" stroke-linejoin="round" stroke-linecap="butt"/>
<line x1="143.00" y1="346.00" x2="150.50" y2="343.00" stroke="#000" stroke-width="1.6" stroke-linecap="butt"/>
<path d="M106.2,358.8 L106.9,367.6 L122.2,367.7" fill="none" stroke="#000" stroke-width="1.8" stroke-linejoin="round" stroke-linecap="butt"/>
<path d="M106.2,358.8 L114,351.5 L114.3,347.5" fill="none" stroke="#000" stroke-width="1.7" stroke-linejoin="round" stroke-linecap="butt"/>
<path d="M99.5,374.5 L107,367.6" fill="none" stroke="#000" stroke-width="1.5" stroke-linejoin="round" stroke-linecap="butt"/>
<path d="M103.9,377 L99.5,374.5" fill="none" stroke="#000" stroke-width="1.5" stroke-linejoin="round" stroke-linecap="butt"/>
<clipPath id="tray"><path d="M120,300 L560,300 L514.3,358.6 L470.5,393.6 L447,414 C442,418 436,419.88 425,418.50 L60,372.88 Z"/></clipPath>
<g clip-path="url(#tray)">
<path d="M145.50,333.38 L146.00,337.88 C145.00,341.38 142.00,342.98 138.50,343.57" fill="none" stroke="#000" stroke-width="1.8" stroke-linejoin="round" stroke-linecap="butt"/>
<path d="M146.00,337.88 C148.50,339.38 150.50,340.88 151.50,342.38" fill="none" stroke="#000" stroke-width="1.3" stroke-linejoin="round" stroke-linecap="butt"/>
<line x1="106.20" y1="360.07" x2="172.35" y2="350.15" stroke="#000" stroke-width="1.8" stroke-linecap="butt"/>
<line x1="122.50" y1="367.52" x2="173.90" y2="359.82" stroke="#000" stroke-width="1.8" stroke-linecap="butt"/>
<line x1="147.00" y1="373.75" x2="192.78" y2="366.88" stroke="#000" stroke-width="1.8" stroke-linecap="butt"/>
<line x1="160.50" y1="381.62" x2="194.33" y2="376.55" stroke="#000" stroke-width="1.8" stroke-linecap="butt"/>
<line x1="174.00" y1="389.50" x2="213.21" y2="383.62" stroke="#000" stroke-width="1.8" stroke-linecap="butt"/>
<line x1="187.50" y1="397.38" x2="214.76" y2="393.29" stroke="#000" stroke-width="1.8" stroke-linecap="butt"/>
<line x1="201.00" y1="405.25" x2="233.65" y2="400.35" stroke="#000" stroke-width="1.8" stroke-linecap="butt"/>
<line x1="214.50" y1="413.12" x2="235.20" y2="410.02" stroke="#000" stroke-width="1.8" stroke-linecap="butt"/>
<line x1="228.00" y1="421.00" x2="254.08" y2="417.09" stroke="#000" stroke-width="1.8" stroke-linecap="butt"/>
<line x1="241.50" y1="428.88" x2="255.63" y2="426.76" stroke="#000" stroke-width="1.8" stroke-linecap="butt"/>
<line x1="255.00" y1="436.75" x2="274.52" y2="433.82" stroke="#000" stroke-width="1.8" stroke-linecap="butt"/>
<line x1="268.50" y1="444.62" x2="276.06" y2="443.49" stroke="#000" stroke-width="1.8" stroke-linecap="butt"/>
<path d="M217.00,342.45 L217.50,346.95 C216.50,350.45 213.50,352.05 210.00,352.65" fill="none" stroke="#000" stroke-width="1.8" stroke-linejoin="round" stroke-linecap="butt"/>
<path d="M217.50,346.95 C220.00,348.45 222.00,349.95 223.00,351.45" fill="none" stroke="#000" stroke-width="1.3" stroke-linejoin="round" stroke-linecap="butt"/>
<line x1="175.35" y1="349.70" x2="217.00" y2="342.45" stroke="#000" stroke-width="1.8" stroke-linecap="butt"/>
<line x1="183.56" y1="358.37" x2="213.30" y2="353.90" stroke="#000" stroke-width="1.8" stroke-linecap="butt"/>
<line x1="192.78" y1="366.88" x2="243.72" y2="359.24" stroke="#000" stroke-width="1.8" stroke-linecap="butt"/>
<line x1="203.00" y1="375.25" x2="245.27" y2="368.91" stroke="#000" stroke-width="1.8" stroke-linecap="butt"/>
<line x1="213.21" y1="383.62" x2="264.15" y2="375.98" stroke="#000" stroke-width="1.8" stroke-linecap="butt"/>
<line x1="223.43" y1="391.99" x2="265.70" y2="385.64" stroke="#000" stroke-width="1.8" stroke-linecap="butt"/>
<line x1="233.65" y1="400.35" x2="284.59" y2="392.71" stroke="#000" stroke-width="1.8" stroke-linecap="butt"/>
<line x1="243.87" y1="408.72" x2="286.13" y2="402.38" stroke="#000" stroke-width="1.8" stroke-linecap="butt"/>
<line x1="254.08" y1="417.09" x2="305.02" y2="409.45" stroke="#000" stroke-width="1.8" stroke-linecap="butt"/>
<line x1="264.30" y1="425.46" x2="306.57" y2="419.11" stroke="#000" stroke-width="1.8" stroke-linecap="butt"/>
<line x1="274.52" y1="433.82" x2="325.45" y2="426.18" stroke="#000" stroke-width="1.8" stroke-linecap="butt"/>
<line x1="284.73" y1="442.19" x2="327.00" y2="435.85" stroke="#000" stroke-width="1.8" stroke-linecap="butt"/>
<line x1="294.95" y1="450.56" x2="345.89" y2="442.92" stroke="#000" stroke-width="1.8" stroke-linecap="butt"/>
<line x1="305.17" y1="458.93" x2="347.43" y2="452.58" stroke="#000" stroke-width="1.8" stroke-linecap="butt"/>
<path d="M288.50,351.53 L289.00,356.03 C288.00,359.53 285.00,361.13 281.50,361.73" fill="none" stroke="#000" stroke-width="1.8" stroke-linejoin="round" stroke-linecap="butt"/>
<path d="M289.00,356.03 C291.50,357.53 293.50,359.03 294.50,360.53" fill="none" stroke="#000" stroke-width="1.3" stroke-linejoin="round" stroke-linecap="butt"/>
<line x1="246.72" y1="358.79" x2="288.50" y2="351.53" stroke="#000" stroke-width="1.8" stroke-linecap="butt"/>
<line x1="254.94" y1="367.46" x2="284.80" y2="362.98" stroke="#000" stroke-width="1.8" stroke-linecap="butt"/>
<line x1="264.15" y1="375.98" x2="315.09" y2="368.34" stroke="#000" stroke-width="1.8" stroke-linecap="butt"/>
<line x1="274.37" y1="384.34" x2="316.64" y2="378.00" stroke="#000" stroke-width="1.8" stroke-linecap="butt"/>
<line x1="284.59" y1="392.71" x2="335.52" y2="385.07" stroke="#000" stroke-width="1.8" stroke-linecap="butt"/>
<line x1="294.80" y1="401.08" x2="337.07" y2="394.74" stroke="#000" stroke-width="1.8" stroke-linecap="butt"/>
<line x1="305.02" y1="409.45" x2="355.96" y2="401.81" stroke="#000" stroke-width="1.8" stroke-linecap="butt"/>
<line x1="315.24" y1="417.81" x2="357.50" y2="411.47" stroke="#000" stroke-width="1.8" stroke-linecap="butt"/>
<line x1="325.45" y1="426.18" x2="376.39" y2="418.54" stroke="#000" stroke-width="1.8" stroke-linecap="butt"/>
<line x1="335.67" y1="434.55" x2="377.94" y2="428.21" stroke="#000" stroke-width="1.8" stroke-linecap="butt"/>
<line x1="345.89" y1="442.92" x2="396.82" y2="435.28" stroke="#000" stroke-width="1.8" stroke-linecap="butt"/>
<line x1="356.10" y1="451.28" x2="398.37" y2="444.94" stroke="#000" stroke-width="1.8" stroke-linecap="butt"/>
<line x1="366.32" y1="459.65" x2="417.26" y2="452.01" stroke="#000" stroke-width="1.8" stroke-linecap="butt"/>
<line x1="376.54" y1="468.02" x2="418.81" y2="461.68" stroke="#000" stroke-width="1.8" stroke-linecap="butt"/>
<path d="M360.00,360.60 L360.50,365.10 C359.50,368.60 356.50,370.20 353.00,370.80" fill="none" stroke="#000" stroke-width="1.8" stroke-linejoin="round" stroke-linecap="butt"/>
<path d="M360.50,365.10 C363.00,366.60 365.00,368.10 366.00,369.60" fill="none" stroke="#000" stroke-width="1.3" stroke-linejoin="round" stroke-linecap="butt"/>
<line x1="318.09" y1="367.89" x2="360.00" y2="360.60" stroke="#000" stroke-width="1.8" stroke-linecap="butt"/>
<line x1="326.31" y1="376.55" x2="356.30" y2="372.06" stroke="#000" stroke-width="1.8" stroke-linecap="butt"/>
<line x1="335.52" y1="385.07" x2="386.46" y2="377.43" stroke="#000" stroke-width="1.8" stroke-linecap="butt"/>
<line x1="345.74" y1="393.44" x2="388.01" y2="387.10" stroke="#000" stroke-width="1.8" stroke-linecap="butt"/>
<line x1="355.96" y1="401.81" x2="406.89" y2="394.17" stroke="#000" stroke-width="1.8" stroke-linecap="butt"/>
<line x1="366.17" y1="410.17" x2="408.44" y2="403.83" stroke="#000" stroke-width="1.8" stroke-linecap="butt"/>
<line x1="376.39" y1="418.54" x2="427.33" y2="410.90" stroke="#000" stroke-width="1.8" stroke-linecap="butt"/>
<line x1="386.61" y1="426.91" x2="428.88" y2="420.57" stroke="#000" stroke-width="1.8" stroke-linecap="butt"/>
<line x1="396.82" y1="435.28" x2="447.76" y2="427.64" stroke="#000" stroke-width="1.8" stroke-linecap="butt"/>
<line x1="407.04" y1="443.64" x2="449.31" y2="437.30" stroke="#000" stroke-width="1.8" stroke-linecap="butt"/>
<line x1="417.26" y1="452.01" x2="468.19" y2="444.37" stroke="#000" stroke-width="1.8" stroke-linecap="butt"/>
<line x1="427.47" y1="460.38" x2="469.74" y2="454.04" stroke="#000" stroke-width="1.8" stroke-linecap="butt"/>
<line x1="437.69" y1="468.75" x2="488.63" y2="461.11" stroke="#000" stroke-width="1.8" stroke-linecap="butt"/>
<line x1="447.91" y1="477.11" x2="490.18" y2="470.77" stroke="#000" stroke-width="1.8" stroke-linecap="butt"/>
<path d="M431.50,369.67 L432.00,374.17 C431.00,377.67 428.00,379.27 424.50,379.87" fill="none" stroke="#000" stroke-width="1.8" stroke-linejoin="round" stroke-linecap="butt"/>
<path d="M432.00,374.17 C434.50,375.67 436.50,377.17 437.50,378.67" fill="none" stroke="#000" stroke-width="1.3" stroke-linejoin="round" stroke-linecap="butt"/>
<line x1="389.46" y1="376.98" x2="431.50" y2="369.67" stroke="#000" stroke-width="1.8" stroke-linecap="butt"/>
<line x1="397.68" y1="385.65" x2="427.80" y2="381.13" stroke="#000" stroke-width="1.8" stroke-linecap="butt"/>
<line x1="406.89" y1="394.17" x2="457.83" y2="386.53" stroke="#000" stroke-width="1.8" stroke-linecap="butt"/>
<line x1="417.11" y1="402.53" x2="459.38" y2="396.19" stroke="#000" stroke-width="1.8" stroke-linecap="butt"/>
<line x1="427.33" y1="410.90" x2="478.27" y2="403.26" stroke="#000" stroke-width="1.8" stroke-linecap="butt"/>
<line x1="437.54" y1="419.27" x2="479.81" y2="412.93" stroke="#000" stroke-width="1.8" stroke-linecap="butt"/>
<line x1="447.76" y1="427.64" x2="498.70" y2="420.00" stroke="#000" stroke-width="1.8" stroke-linecap="butt"/>
<line x1="457.98" y1="436.00" x2="500.25" y2="429.66" stroke="#000" stroke-width="1.8" stroke-linecap="butt"/>
<line x1="468.19" y1="444.37" x2="519.13" y2="436.73" stroke="#000" stroke-width="1.8" stroke-linecap="butt"/>
<line x1="478.41" y1="452.74" x2="520.68" y2="446.40" stroke="#000" stroke-width="1.8" stroke-linecap="butt"/>
<line x1="488.63" y1="461.11" x2="539.57" y2="453.47" stroke="#000" stroke-width="1.8" stroke-linecap="butt"/>
<line x1="498.84" y1="469.47" x2="541.11" y2="463.13" stroke="#000" stroke-width="1.8" stroke-linecap="butt"/>
<line x1="509.06" y1="477.84" x2="560.00" y2="470.20" stroke="#000" stroke-width="1.8" stroke-linecap="butt"/>
<line x1="519.28" y1="486.21" x2="561.55" y2="479.87" stroke="#000" stroke-width="1.8" stroke-linecap="butt"/>
<path d="M503.00,378.75 L503.50,383.25 C502.50,386.75 499.50,388.35 496.00,388.95" fill="none" stroke="#000" stroke-width="1.8" stroke-linejoin="round" stroke-linecap="butt"/>
<path d="M503.50,383.25 C506.00,384.75 508.00,386.25 509.00,387.75" fill="none" stroke="#000" stroke-width="1.3" stroke-linejoin="round" stroke-linecap="butt"/>
<line x1="460.83" y1="386.08" x2="503.00" y2="378.75" stroke="#000" stroke-width="1.8" stroke-linecap="butt"/>
<line x1="469.05" y1="394.74" x2="499.30" y2="390.21" stroke="#000" stroke-width="1.8" stroke-linecap="butt"/>
<line x1="478.27" y1="403.26" x2="529.20" y2="395.62" stroke="#000" stroke-width="1.8" stroke-linecap="butt"/>
<line x1="488.48" y1="411.63" x2="530.75" y2="405.29" stroke="#000" stroke-width="1.8" stroke-linecap="butt"/>
<line x1="498.70" y1="420.00" x2="549.64" y2="412.35" stroke="#000" stroke-width="1.8" stroke-linecap="butt"/>
<line x1="508.92" y1="428.36" x2="551.18" y2="422.02" stroke="#000" stroke-width="1.8" stroke-linecap="butt"/>
<line x1="519.13" y1="436.73" x2="570.07" y2="429.09" stroke="#000" stroke-width="1.8" stroke-linecap="butt"/>
<line x1="529.35" y1="445.10" x2="571.62" y2="438.76" stroke="#000" stroke-width="1.8" stroke-linecap="butt"/>
<line x1="539.57" y1="453.47" x2="590.50" y2="445.82" stroke="#000" stroke-width="1.8" stroke-linecap="butt"/>
<line x1="549.78" y1="461.83" x2="592.05" y2="455.49" stroke="#000" stroke-width="1.8" stroke-linecap="butt"/>
<line x1="560.00" y1="470.20" x2="610.94" y2="462.56" stroke="#000" stroke-width="1.8" stroke-linecap="butt"/>
<line x1="570.22" y1="478.57" x2="612.48" y2="472.23" stroke="#000" stroke-width="1.8" stroke-linecap="butt"/>
<line x1="580.43" y1="486.94" x2="631.37" y2="479.29" stroke="#000" stroke-width="1.8" stroke-linecap="butt"/>
<line x1="590.65" y1="495.30" x2="632.92" y2="488.96" stroke="#000" stroke-width="1.8" stroke-linecap="butt"/>
<path d="M574.50,387.82 L575.00,392.32 C574.00,395.82 571.00,397.43 567.50,398.02" fill="none" stroke="#000" stroke-width="1.8" stroke-linejoin="round" stroke-linecap="butt"/>
<path d="M575.00,392.32 C577.50,393.82 579.50,395.32 580.50,396.82" fill="none" stroke="#000" stroke-width="1.3" stroke-linejoin="round" stroke-linecap="butt"/>
<line x1="532.20" y1="395.17" x2="574.50" y2="387.82" stroke="#000" stroke-width="1.8" stroke-linecap="butt"/>
<line x1="540.42" y1="403.84" x2="570.80" y2="399.28" stroke="#000" stroke-width="1.8" stroke-linecap="butt"/>
<line x1="549.64" y1="412.35" x2="600.57" y2="404.71" stroke="#000" stroke-width="1.8" stroke-linecap="butt"/>
<line x1="559.85" y1="420.72" x2="602.12" y2="414.38" stroke="#000" stroke-width="1.8" stroke-linecap="butt"/>
<line x1="570.07" y1="429.09" x2="621.01" y2="421.45" stroke="#000" stroke-width="1.8" stroke-linecap="butt"/>
<line x1="580.29" y1="437.46" x2="622.56" y2="431.12" stroke="#000" stroke-width="1.8" stroke-linecap="butt"/>
<line x1="590.50" y1="445.82" x2="641.44" y2="438.18" stroke="#000" stroke-width="1.8" stroke-linecap="butt"/>
<line x1="600.72" y1="454.19" x2="642.99" y2="447.85" stroke="#000" stroke-width="1.8" stroke-linecap="butt"/>
<line x1="610.94" y1="462.56" x2="661.87" y2="454.92" stroke="#000" stroke-width="1.8" stroke-linecap="butt"/>
<line x1="621.15" y1="470.93" x2="663.42" y2="464.59" stroke="#000" stroke-width="1.8" stroke-linecap="butt"/>
<line x1="631.37" y1="479.29" x2="682.31" y2="471.65" stroke="#000" stroke-width="1.8" stroke-linecap="butt"/>
<line x1="641.59" y1="487.66" x2="683.86" y2="481.32" stroke="#000" stroke-width="1.8" stroke-linecap="butt"/>
<line x1="651.80" y1="496.03" x2="702.74" y2="488.39" stroke="#000" stroke-width="1.8" stroke-linecap="butt"/>
<line x1="662.02" y1="504.40" x2="704.29" y2="498.06" stroke="#000" stroke-width="1.8" stroke-linecap="butt"/>
<line x1="114.00" y1="351.72" x2="139.50" y2="372.60" stroke="#000" stroke-width="2.2" stroke-linecap="butt"/>
<line x1="121.41" y1="357.79" x2="121.81" y2="366.19" stroke="#000" stroke-width="1.8" stroke-linecap="butt"/>
<line x1="150.80" y1="332.50" x2="245.80" y2="410.31" stroke="#000" stroke-width="2.2" stroke-linecap="butt"/>
<path d="M150.80,332.50 L151.40,340.90 C153.30,345.00 155.80,348.00 159.80,349.40 L169.80,348.70" fill="none" stroke="#000" stroke-width="1.8" stroke-linejoin="round" stroke-linecap="butt"/>
<line x1="172.35" y1="350.15" x2="172.75" y2="358.55" stroke="#000" stroke-width="1.8" stroke-linecap="butt"/>
<line x1="172.75" y1="358.55" x2="184.55" y2="368.21" stroke="#000" stroke-width="1.8" stroke-linecap="butt"/>
<line x1="192.78" y1="366.88" x2="193.18" y2="375.28" stroke="#000" stroke-width="1.8" stroke-linecap="butt"/>
<line x1="193.18" y1="375.28" x2="204.98" y2="384.95" stroke="#000" stroke-width="1.8" stroke-linecap="butt"/>
<line x1="213.21" y1="383.62" x2="213.61" y2="392.02" stroke="#000" stroke-width="1.8" stroke-linecap="butt"/>
<line x1="213.61" y1="392.02" x2="225.41" y2="401.68" stroke="#000" stroke-width="1.8" stroke-linecap="butt"/>
<line x1="233.65" y1="400.35" x2="234.05" y2="408.75" stroke="#000" stroke-width="1.8" stroke-linecap="butt"/>
<line x1="234.05" y1="408.75" x2="245.85" y2="418.42" stroke="#000" stroke-width="1.8" stroke-linecap="butt"/>
<line x1="254.08" y1="417.09" x2="254.48" y2="425.49" stroke="#000" stroke-width="1.8" stroke-linecap="butt"/>
<line x1="254.48" y1="425.49" x2="266.28" y2="435.15" stroke="#000" stroke-width="1.8" stroke-linecap="butt"/>
<line x1="274.52" y1="433.82" x2="274.92" y2="442.22" stroke="#000" stroke-width="1.8" stroke-linecap="butt"/>
<line x1="274.92" y1="442.22" x2="286.72" y2="451.89" stroke="#000" stroke-width="1.8" stroke-linecap="butt"/>
<line x1="222.30" y1="341.70" x2="317.30" y2="419.50" stroke="#000" stroke-width="2.2" stroke-linecap="butt"/>
<path d="M222.30,341.70 L222.90,350.10 C224.80,354.20 227.30,357.20 231.30,358.60 L241.30,357.90" fill="none" stroke="#000" stroke-width="1.8" stroke-linejoin="round" stroke-linecap="butt"/>
<line x1="243.72" y1="359.24" x2="244.12" y2="367.64" stroke="#000" stroke-width="1.8" stroke-linecap="butt"/>
<line x1="244.12" y1="367.64" x2="255.92" y2="377.31" stroke="#000" stroke-width="1.8" stroke-linecap="butt"/>
<line x1="264.15" y1="375.98" x2="264.55" y2="384.38" stroke="#000" stroke-width="1.8" stroke-linecap="butt"/>
<line x1="264.55" y1="384.38" x2="276.35" y2="394.04" stroke="#000" stroke-width="1.8" stroke-linecap="butt"/>
<line x1="284.59" y1="392.71" x2="284.99" y2="401.11" stroke="#000" stroke-width="1.8" stroke-linecap="butt"/>
<line x1="284.99" y1="401.11" x2="296.79" y2="410.78" stroke="#000" stroke-width="1.8" stroke-linecap="butt"/>
<line x1="305.02" y1="409.45" x2="305.42" y2="417.85" stroke="#000" stroke-width="1.8" stroke-linecap="butt"/>
<line x1="305.42" y1="417.85" x2="317.22" y2="427.51" stroke="#000" stroke-width="1.8" stroke-linecap="butt"/>
<line x1="325.45" y1="426.18" x2="325.85" y2="434.58" stroke="#000" stroke-width="1.8" stroke-linecap="butt"/>
<line x1="325.85" y1="434.58" x2="337.65" y2="444.25" stroke="#000" stroke-width="1.8" stroke-linecap="butt"/>
<line x1="345.89" y1="442.92" x2="346.29" y2="451.32" stroke="#000" stroke-width="1.8" stroke-linecap="butt"/>
<line x1="346.29" y1="451.32" x2="358.09" y2="460.98" stroke="#000" stroke-width="1.8" stroke-linecap="butt"/>
<line x1="293.80" y1="350.90" x2="388.80" y2="428.70" stroke="#000" stroke-width="2.2" stroke-linecap="butt"/>
<path d="M293.80,350.90 L294.40,359.30 C296.30,363.40 298.80,366.40 302.80,367.80 L312.80,367.10" fill="none" stroke="#000" stroke-width="1.8" stroke-linejoin="round" stroke-linecap="butt"/>
<line x1="315.09" y1="368.34" x2="315.49" y2="376.74" stroke="#000" stroke-width="1.8" stroke-linecap="butt"/>
<line x1="315.49" y1="376.74" x2="327.29" y2="386.40" stroke="#000" stroke-width="1.8" stroke-linecap="butt"/>
<line x1="335.52" y1="385.07" x2="335.92" y2="393.47" stroke="#000" stroke-width="1.8" stroke-linecap="butt"/>
<line x1="335.92" y1="393.47" x2="347.72" y2="403.14" stroke="#000" stroke-width="1.8" stroke-linecap="butt"/>
<line x1="355.96" y1="401.81" x2="356.36" y2="410.21" stroke="#000" stroke-width="1.8" stroke-linecap="butt"/>
<line x1="356.36" y1="410.21" x2="368.16" y2="419.87" stroke="#000" stroke-width="1.8" stroke-linecap="butt"/>
<line x1="376.39" y1="418.54" x2="376.79" y2="426.94" stroke="#000" stroke-width="1.8" stroke-linecap="butt"/>
<line x1="376.79" y1="426.94" x2="388.59" y2="436.61" stroke="#000" stroke-width="1.8" stroke-linecap="butt"/>
<line x1="396.82" y1="435.28" x2="397.22" y2="443.68" stroke="#000" stroke-width="1.8" stroke-linecap="butt"/>
<line x1="397.22" y1="443.68" x2="409.02" y2="453.34" stroke="#000" stroke-width="1.8" stroke-linecap="butt"/>
<line x1="417.26" y1="452.01" x2="417.66" y2="460.41" stroke="#000" stroke-width="1.8" stroke-linecap="butt"/>
<line x1="417.66" y1="460.41" x2="429.46" y2="470.08" stroke="#000" stroke-width="1.8" stroke-linecap="butt"/>
<line x1="365.30" y1="360.10" x2="460.30" y2="437.91" stroke="#000" stroke-width="2.2" stroke-linecap="butt"/>
<path d="M365.30,360.10 L365.90,368.50 C367.80,372.60 370.30,375.60 374.30,377.00 L384.30,376.30" fill="none" stroke="#000" stroke-width="1.8" stroke-linejoin="round" stroke-linecap="butt"/>
<line x1="386.46" y1="377.43" x2="386.86" y2="385.83" stroke="#000" stroke-width="1.8" stroke-linecap="butt"/>
<line x1="386.86" y1="385.83" x2="398.66" y2="395.50" stroke="#000" stroke-width="1.8" stroke-linecap="butt"/>
<line x1="406.89" y1="394.17" x2="407.29" y2="402.57" stroke="#000" stroke-width="1.8" stroke-linecap="butt"/>
<line x1="407.29" y1="402.57" x2="419.09" y2="412.23" stroke="#000" stroke-width="1.8" stroke-linecap="butt"/>
<line x1="427.33" y1="410.90" x2="427.73" y2="419.30" stroke="#000" stroke-width="1.8" stroke-linecap="butt"/>
<line x1="427.73" y1="419.30" x2="439.53" y2="428.97" stroke="#000" stroke-width="1.8" stroke-linecap="butt"/>
<line x1="447.76" y1="427.64" x2="448.16" y2="436.04" stroke="#000" stroke-width="1.8" stroke-linecap="butt"/>
<line x1="448.16" y1="436.04" x2="459.96" y2="445.70" stroke="#000" stroke-width="1.8" stroke-linecap="butt"/>
<line x1="468.19" y1="444.37" x2="468.59" y2="452.77" stroke="#000" stroke-width="1.8" stroke-linecap="butt"/>
<line x1="468.59" y1="452.77" x2="480.39" y2="462.43" stroke="#000" stroke-width="1.8" stroke-linecap="butt"/>
<line x1="488.63" y1="461.11" x2="489.03" y2="469.51" stroke="#000" stroke-width="1.8" stroke-linecap="butt"/>
<line x1="489.03" y1="469.51" x2="500.83" y2="479.17" stroke="#000" stroke-width="1.8" stroke-linecap="butt"/>
<line x1="436.80" y1="369.30" x2="531.80" y2="447.11" stroke="#000" stroke-width="2.2" stroke-linecap="butt"/>
<path d="M436.80,369.30 L437.40,377.70 C439.30,381.80 441.80,384.80 445.80,386.20 L455.80,385.50" fill="none" stroke="#000" stroke-width="1.8" stroke-linejoin="round" stroke-linecap="butt"/>
<line x1="457.83" y1="386.53" x2="458.23" y2="394.93" stroke="#000" stroke-width="1.8" stroke-linecap="butt"/>
<line x1="458.23" y1="394.93" x2="470.03" y2="404.59" stroke="#000" stroke-width="1.8" stroke-linecap="butt"/>
<line x1="478.27" y1="403.26" x2="478.67" y2="411.66" stroke="#000" stroke-width="1.8" stroke-linecap="butt"/>
<line x1="478.67" y1="411.66" x2="490.47" y2="421.32" stroke="#000" stroke-width="1.8" stroke-linecap="butt"/>
<line x1="498.70" y1="420.00" x2="499.10" y2="428.40" stroke="#000" stroke-width="1.8" stroke-linecap="butt"/>
<line x1="499.10" y1="428.40" x2="510.90" y2="438.06" stroke="#000" stroke-width="1.8" stroke-linecap="butt"/>
<line x1="519.13" y1="436.73" x2="519.53" y2="445.13" stroke="#000" stroke-width="1.8" stroke-linecap="butt"/>
<line x1="519.53" y1="445.13" x2="531.33" y2="454.79" stroke="#000" stroke-width="1.8" stroke-linecap="butt"/>
<line x1="539.57" y1="453.47" x2="539.97" y2="461.87" stroke="#000" stroke-width="1.8" stroke-linecap="butt"/>
<line x1="539.97" y1="461.87" x2="551.77" y2="471.53" stroke="#000" stroke-width="1.8" stroke-linecap="butt"/>
<line x1="560.00" y1="470.20" x2="560.40" y2="478.60" stroke="#000" stroke-width="1.8" stroke-linecap="butt"/>
<line x1="560.40" y1="478.60" x2="572.20" y2="488.26" stroke="#000" stroke-width="1.8" stroke-linecap="butt"/>
<line x1="508.30" y1="378.50" x2="603.30" y2="456.31" stroke="#000" stroke-width="2.2" stroke-linecap="butt"/>
<path d="M508.30,378.50 L508.90,386.90 C510.80,391.00 513.30,394.00 517.30,395.40 L527.30,394.70" fill="none" stroke="#000" stroke-width="1.8" stroke-linejoin="round" stroke-linecap="butt"/>
<line x1="529.20" y1="395.62" x2="529.60" y2="404.02" stroke="#000" stroke-width="1.8" stroke-linecap="butt"/>
<line x1="529.60" y1="404.02" x2="541.40" y2="413.68" stroke="#000" stroke-width="1.8" stroke-linecap="butt"/>
<line x1="549.64" y1="412.35" x2="550.04" y2="420.75" stroke="#000" stroke-width="1.8" stroke-linecap="butt"/>
<line x1="550.04" y1="420.75" x2="561.84" y2="430.42" stroke="#000" stroke-width="1.8" stroke-linecap="butt"/>
<line x1="570.07" y1="429.09" x2="570.47" y2="437.49" stroke="#000" stroke-width="1.8" stroke-linecap="butt"/>
<line x1="570.47" y1="437.49" x2="582.27" y2="447.15" stroke="#000" stroke-width="1.8" stroke-linecap="butt"/>
<line x1="590.50" y1="445.82" x2="590.90" y2="454.22" stroke="#000" stroke-width="1.8" stroke-linecap="butt"/>
<line x1="590.90" y1="454.22" x2="602.70" y2="463.89" stroke="#000" stroke-width="1.8" stroke-linecap="butt"/>
<line x1="610.94" y1="462.56" x2="611.34" y2="470.96" stroke="#000" stroke-width="1.8" stroke-linecap="butt"/>
<line x1="611.34" y1="470.96" x2="623.14" y2="480.62" stroke="#000" stroke-width="1.8" stroke-linecap="butt"/>
<line x1="631.37" y1="479.29" x2="631.77" y2="487.69" stroke="#000" stroke-width="1.8" stroke-linecap="butt"/>
<line x1="631.77" y1="487.69" x2="643.57" y2="497.36" stroke="#000" stroke-width="1.8" stroke-linecap="butt"/>
</g>
</svg>
<div class="lbl" style="left:57px;top:164.5px;">B</div>
<div class="lbl" style="left:193.5px;top:477px;">A</div>
<div class="lbl" style="left:606px;top:311.5px;">C</div>
</body></html>
